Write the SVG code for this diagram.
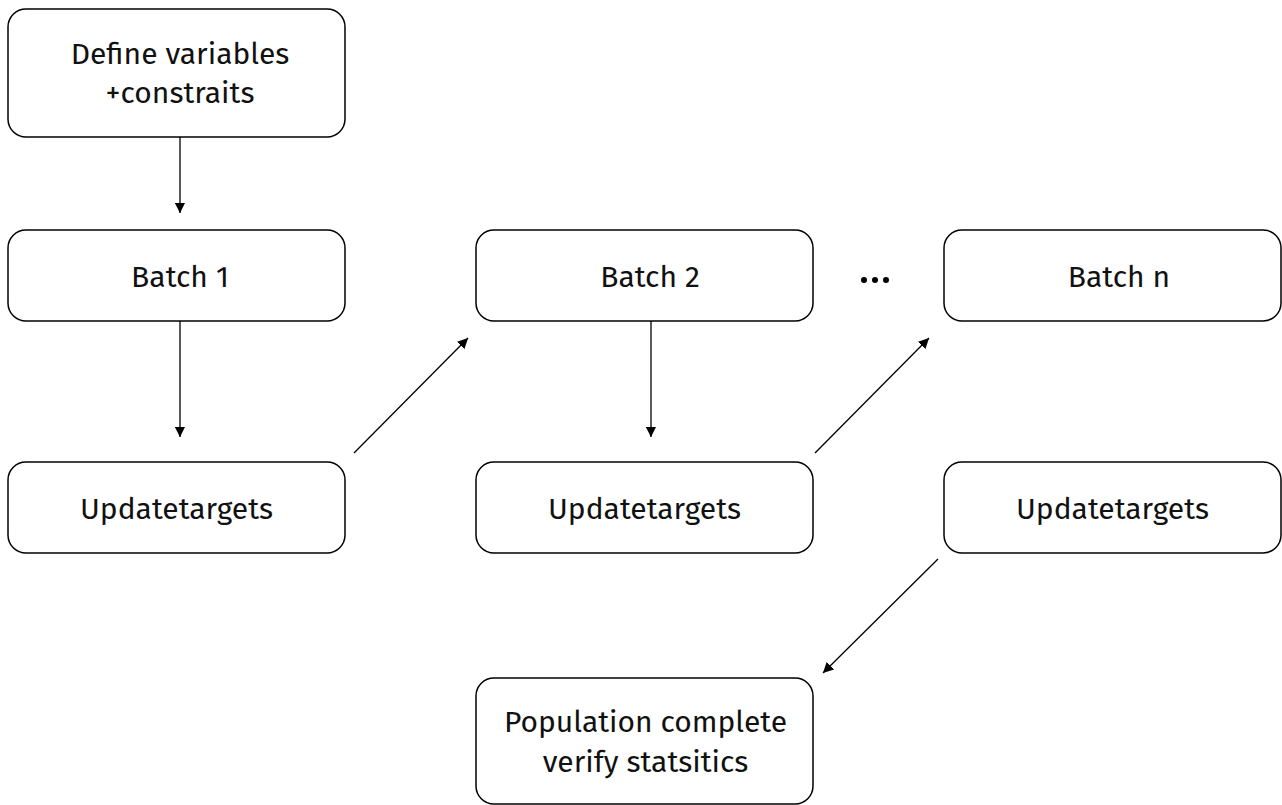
<svg xmlns="http://www.w3.org/2000/svg" width="1282" height="805" viewBox="0 0 1282 805">
<style>
.box{fill:#fff;stroke:#000;stroke-width:1.5}
.t{font-family:"Fira Sans","Noto Sans","Open Sans",sans-serif;font-size:30px;fill:#111;text-anchor:middle}
.c{stroke:#000;stroke-width:1.3;fill:none;marker-end:url(#ah)}
</style>
<defs>
<marker id="ah" viewBox="0 0 10 10" refX="10" refY="5" markerWidth="10" markerHeight="10" markerUnits="userSpaceOnUse" orient="auto">
<path d="M0,0 L10,5 L0,10 z" fill="#000" transform="scale(1.2) translate(-1.6,-0.8)"/>
</marker>
</defs>
<rect width="1282" height="805" fill="#fff"/>
<g id="n-define"><rect class="box" x="8" y="9" width="337" height="128" rx="18"/><text class="t" x="180" y="64">Define variables</text><text class="t" x="180" y="103">+constraits</text></g>
<g id="n-batch1"><rect class="box" x="8" y="230" width="337" height="91" rx="18"/><text class="t" x="180" y="287">Batch 1</text></g>
<g id="n-batch2"><rect class="box" x="476" y="230" width="337" height="91" rx="18"/><text class="t" x="650" y="287">Batch 2</text></g>
<g id="n-batchn"><rect class="box" x="944" y="230" width="337" height="91" rx="18"/><text class="t" x="1119" y="287">Batch n</text></g>
<g id="n-upd1"><rect class="box" x="8" y="462" width="337" height="91" rx="18"/><text class="t" x="176.5" y="519">Updatetargets</text></g>
<g id="n-upd2"><rect class="box" x="476" y="462" width="337" height="91" rx="18"/><text class="t" x="644.5" y="519">Updatetargets</text></g>
<g id="n-updn"><rect class="box" x="944" y="462" width="337" height="91" rx="18"/><text class="t" x="1112.5" y="519">Updatetargets</text></g>
<g id="n-final"><rect class="box" x="476" y="678" width="337" height="126" rx="18"/><text class="t" x="645.5" y="732">Population complete</text><text class="t" x="645.5" y="772">verify statsitics</text></g>
<g id="dots" fill="#000"><circle cx="864" cy="280" r="3"/><circle cx="875" cy="280" r="3"/><circle cx="886" cy="280" r="3"/></g>
<g id="connectors">
<line class="c" x1="180" y1="137" x2="180" y2="213"/>
<line class="c" x1="180" y1="321" x2="180" y2="437"/>
<line class="c" x1="354" y1="453" x2="468" y2="338"/>
<line class="c" x1="651" y1="321" x2="651" y2="437"/>
<line class="c" x1="815" y1="453" x2="929" y2="338"/>
<line class="c" x1="938" y1="559" x2="823" y2="673"/>
</g>
</svg>
